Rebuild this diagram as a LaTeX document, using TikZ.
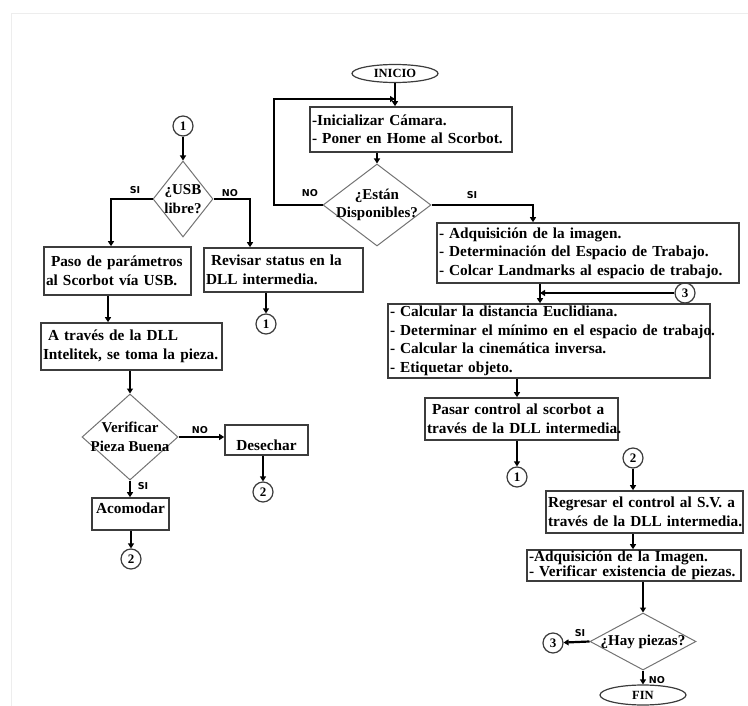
\documentclass[tikz,border=0pt]{standalone}
\usepackage{fontspec}
\setmainfont{Liberation Serif}
\newfontfamily\tagfont{DejaVu Sans}
\usetikzlibrary{shapes.geometric,arrows.meta,calc}

\definecolor{boxline}{RGB}{60,60,60}
\definecolor{diamline}{RGB}{115,115,115}

\tikzset{
  proc/.style={draw=boxline, line width=1.6pt, inner xsep=2pt, inner ysep=0pt,
    align=left, font=\fontsize{15.3}{18.5}\selectfont\bfseries},
  decision/.style={diamond, draw=diamline, line width=1pt, inner sep=0pt},
  dtext/.style={font=\fontsize{15}{18.5}\selectfont\bfseries, align=center, inner sep=0pt},
  conn/.style={circle, draw=boxline, line width=1.2pt, minimum size=20pt, inner sep=0pt,
    font=\fontsize{13}{13}\selectfont\bfseries},
  term/.style={ellipse, draw=boxline, line width=1.2pt, inner sep=0pt, minimum width=86pt,
    minimum height=18pt, font=\fontsize{12.5}{12.5}\selectfont\bfseries},
  flow/.style={line width=2.2pt, -{Triangle[length=5pt,width=6pt]}},
  tag/.style={font=\tagfont\bfseries\fontsize{9.5}{9.5}\selectfont, inner sep=0pt},
}

\begin{document}
\begin{tikzpicture}[x=1pt,y=-1pt]
  \useasboundingbox (0,0) rectangle (748,706);
  \draw[black!7] (11,706) -- (11,13) -- (748,13);

  % left column
  \node[conn] (c1a) at (183,126) {1};
  \node[decision, minimum width=60pt, minimum height=76pt,
    label={[dtext]center:{¿USB\\libre?}}] (usb) at (183,199) {};
  \node[proc, text width=143pt, minimum height=48pt] (paso) at (117.5,271)
    {\mbox{\hspace*{5pt}Paso de parámetros}\\\mbox{al Scorbot vía USB.}};
  \node[proc, text width=155pt, minimum height=44pt] (rev) at (283.5,270)
    {\mbox{\hspace*{5pt}Revisar status en la}\\\mbox{DLL intermedia.}};
  \node[conn] (c1c) at (266,324) {1};
  \node[proc, text width=177pt, minimum height=47pt] (atr) at (131.5,346.5)
    {\mbox{\hspace*{5pt}A través de la DLL}\\\mbox{Intelitek, se toma la pieza.}};
  \node[decision, minimum width=96pt, minimum height=86pt,
    label={[dtext]center:{Verificar\\Pieza Buena}}] (ver) at (130,437) {};
  \node[proc, text width=79pt, minimum height=30pt, align=center] (des) at (266.5,440)
    {\raisebox{-5pt}[\height][\depth]{Desechar}};
  \node[conn] (c2a) at (263,492) {2};
  \node[proc, text width=73pt, minimum height=32pt, align=center] (aco) at (130.5,514)
    {\raisebox{6pt}[\height][\depth]{Acomodar}};
  \node[conn] (c2b) at (131,559) {2};

  \node[tag] (si1) at (135,190) {SI};
  \node[tag] (no1) at (230,193) {NO};
  \node[tag] (no3) at (200,430) {NO};
  \node[tag] (si3) at (143,486) {SI};

  \draw[flow] (c1a) -- (usb.north);
  \draw[flow] (usb.west) -| ([xshift=-6.5pt]paso.north);
  \draw[flow] (usb.east) -| ([xshift=-33.5pt]rev.north);
  \draw[flow] ([xshift=-9.5pt]paso.south) -- ([xshift=-9.5pt]paso.south |- atr.north);
  \draw[flow] (c1c |- rev.south) -- (c1c);
  \draw[flow] (ver |- atr.south) -- (ver.north);
  \draw[flow] (ver.east) -- (ver.east -| des.west);
  \draw[flow] (c2a |- des.south) -- (c2a);
  \draw[flow] (ver.south) -- (ver.south |- aco.north);
  \draw[flow] (c2b |- aco.south) -- (c2b);

  % right column
  \node[term] (inicio) at (395,73.5) {INICIO};
  \node[proc, text width=198pt, minimum height=45pt] (init) at (411,129.5)
    {\mbox{-Inicializar Cámara.}\\\mbox{- Poner en Home al Scorbot.}};
  \node[decision, minimum width=108pt, minimum height=82pt,
    label={[dtext]center:{¿Están\\Disponibles?}}] (disp) at (377,205) {};
  \node[proc, text width=298pt, minimum height=60pt] (adq) at (588,253)
    {\mbox{- Adquisición de la imagen.}\\\mbox{- Determinación del Espacio de Trabajo.}\\\mbox{- Colcar Landmarks al espacio de trabajo.}};
  \node[conn] (c3r) at (685,293) {3};
  \coordinate (jn) at (540,293);
  \node[proc, text width=318pt, minimum height=74pt] (calc) at (549,341)
    {\mbox{- Calcular la distancia Euclidiana.}\\\mbox{- Determinar el mínimo en el espacio de trabajo.}\\\mbox{- Calcular la cinemática inversa.}\\\mbox{- Etiquetar objeto.}};
  \node[proc, text width=189pt, minimum height=42pt] (pasar) at (521.5,419)
    {\mbox{\hspace*{5pt}Pasar control al scorbot a}\\\mbox{través de la DLL intermedia.}};
  \node[conn] (c1b) at (517,477) {1};
  \node[conn] (c2r) at (633,458) {2};
  \node[proc, text width=193pt, minimum height=42pt] (reg) at (644.5,512)
    {\mbox{Regresar el control al S.V. a}\\\mbox{través de la DLL intermedia.}};
  \node[proc, text width=210pt, minimum height=31pt] (adq2) at (634,565.5)
    {\mbox{-Adquisición de la Imagen.}\\[-4pt]\mbox{- Verificar existencia de piezas.}};
  \node[decision, minimum width=106pt, minimum height=57pt,
    label={[dtext]center:{¿Hay piezas?}}] (hay) at (643,641.5) {};
  \node[conn] (c3b) at (553,643) {3};
  \node[term, minimum height=20pt] (fin) at (643,695) {FIN};
  \coordinate (loopc) at (274,99);

  \node[tag] (no2) at (310,193) {NO};
  \node[tag] (si2) at (472,195) {SI};
  \node[tag] (si4) at (580,633) {SI};
  \node[tag] (no4) at (657,680) {NO};

  \draw[flow] (inicio) -- (inicio |- init.north);
  \draw[flow] (disp.west) -| (loopc) -- (inicio |- loopc);
  \draw[flow] (disp |- init.south) -- (disp.north);
  \draw[flow] (disp.east) -| ([xshift=-55pt]adq.north);
  \draw[flow] (c3r) -- (jn);
  \draw[flow] (jn |- adq.south) -- (jn |- calc.north);
  \draw[flow] (c1b |- calc.south) -- (c1b |- pasar.north);
  \draw[flow] (c1b |- pasar.south) -- (c1b);
  \draw[flow] (c2r) -- (c2r |- reg.north);
  \draw[flow] (c2r |- reg.south) -- (c2r |- adq2.north);
  \draw[flow] (hay |- adq2.south) -- (hay.north);
  \draw[flow] (hay.west) -- (c3b);
  \draw[flow] (hay.south) -- (fin);
\end{tikzpicture}
\end{document}
